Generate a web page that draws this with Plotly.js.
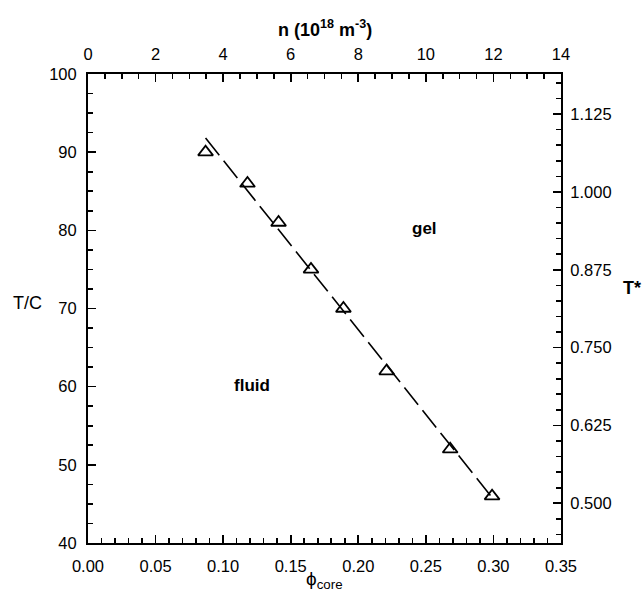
<!DOCTYPE html>
<html><head><meta charset="utf-8">
<script src="https://cdn.plot.ly/plotly-3.0.1.min.js"></script>
<style>html,body{margin:0;padding:0;background:#fff}</style>
</head><body><div id="chart" style="width:644px;height:597px"></div>
<script>
// data
const phiCore = [0.087, 0.118, 0.141, 0.165, 0.189, 0.221, 0.268, 0.299];
const tempC   = [90, 86, 81, 75, 70, 62, 52, 46];
const fitPhi  = [0.087, 0.300];
const fitTemp = [91.8, 45.6];
const regionLabels = ['gel', 'fluid'];
const regionPhi = [0.249, 0.121];
const regionTemp = [80.2, 60.1];
const nRange = [0, 14];
const tStarRange = [0.4362, 1.1894];
const tStarTicks = [0.500, 0.625, 0.750, 0.875, 1.000, 1.125];
const tStarLabels = ['0.500', '0.625', '0.750', '0.875', '1.000', '1.125'];

const font = 'Liberation Sans, Arial, Helvetica, sans-serif';
const tickFont = {family: font, size: 16.5, color: '#000'};

const traces = [
  // empty trace so the secondary (top / right) axes get drawn
  {x: [], y: [], xaxis: 'x2', yaxis: 'y2', type: 'scatter', mode: 'markers',
   hoverinfo: 'skip', showlegend: false},
  {x: fitPhi, y: fitTemp, type: 'scatter', mode: 'lines',
   line: {color: '#000', width: 1.6, dash: '22px,7px'}, hoverinfo: 'skip', showlegend: false},
  {x: phiCore, y: tempC, type: 'scatter', mode: 'markers',
   marker: {symbol: 'triangle-up-open', size: 13, color: '#000', line: {color: '#000', width: 1.8}},
   showlegend: false}
];

const axCommon = {
  showgrid: false, zeroline: false, showline: true, linecolor: '#000', linewidth: 2,
  ticks: 'inside', ticklen: 8, tickwidth: 1.6, tickcolor: '#000', tickfont: tickFont
};
const minorCommon = {ticks: 'inside', ticklen: 5, tickwidth: 1.6, tickcolor: '#000', showgrid: false};

const layout = {
  width: 644, height: 597,
  margin: {l: 88, r: 83, t: 74, b: 54},
  paper_bgcolor: '#fff', plot_bgcolor: '#fff',
  showlegend: false,
  xaxis: Object.assign({}, axCommon, {
    range: [0, 0.35], dtick: 0.05, tick0: 0, tickformat: '.2f',
    ticklabelstandoff: 7,
    minor: Object.assign({dtick: 0.01}, minorCommon)
  }),
  xaxis2: Object.assign({}, axCommon, {
    overlaying: 'x', anchor: 'y2', side: 'top',
    range: nRange, dtick: 2, tick0: 0, ticklabelstandoff: 5,
    minor: Object.assign({dtick: 0.5}, minorCommon)
  }),
  yaxis: Object.assign({}, axCommon, {
    range: [40, 100], dtick: 10, tick0: 40, ticklabelstandoff: 6,
    minor: Object.assign({dtick: 2.5}, minorCommon)
  }),
  yaxis2: Object.assign({}, axCommon, {
    overlaying: 'y', anchor: 'x2', side: 'right',
    range: tStarRange, tickvals: tStarTicks, ticktext: tStarLabels,
    ticklabelstandoff: 4,
    minor: Object.assign({dtick: 0.025, tick0: 0.5}, minorCommon)
  }),
  annotations: [
    {text: '<b>n (10<sup>18</sup> m<sup>-3</sup>)</b>', xref: 'paper', yref: 'paper',
     x: 0.5, y: 1.098, xanchor: 'center', yanchor: 'middle', showarrow: false,
     font: {family: font, size: 18, color: '#000'}},
    {text: 'T/C', xref: 'paper', yref: 'paper', x: -0.127, y: 0.512,
     xanchor: 'center', yanchor: 'middle', showarrow: false,
     font: {family: font, size: 18, color: '#000'}},
    {text: '<b>T*</b>', xref: 'paper', yref: 'paper', x: 1.15, y: 0.544,
     xanchor: 'center', yanchor: 'middle', showarrow: false,
     font: {family: font, size: 18, color: '#000'}},
    {text: 'ϕ<sub>core</sub>', xref: 'paper', yref: 'paper', x: 0.5, y: -0.079,
     xanchor: 'center', yanchor: 'middle', showarrow: false,
     font: {family: font, size: 19, color: '#000'}},
    {text: '<b>' + regionLabels[0] + '</b>', xref: 'x', yref: 'y', x: regionPhi[0], y: regionTemp[0],
     showarrow: false, font: {family: font, size: 17, color: '#000'}},
    {text: '<b>' + regionLabels[1] + '</b>', xref: 'x', yref: 'y', x: regionPhi[1], y: regionTemp[1],
     showarrow: false, font: {family: font, size: 17, color: '#000'}}
  ]
};

Plotly.newPlot('chart', traces, layout, {displayModeBar: false, staticPlot: true});
</script>
</body></html>
